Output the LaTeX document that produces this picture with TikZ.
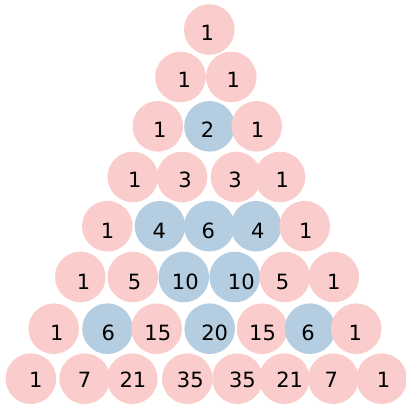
\documentclass[tikz,border=0pt]{standalone}
\usepackage{fontspec}
\setmainfont{DejaVu Sans}
\definecolor{pinkc}{RGB}{250,205,204}
\definecolor{bluec}{RGB}{180,205,225}
\tikzset{
  ball/.style={circle,inner sep=0pt,minimum size=50.6pt,draw=none},
  odd/.style={ball,fill=pinkc},
  even/.style={ball,fill=bluec},
  num/.style={inner sep=0pt,font=\fontsize{21}{21}\selectfont,text=black}
}
\begin{document}
\begin{tikzpicture}[x=1pt,y=-1pt]
\useasboundingbox (0,0) rectangle (406,406);
% row 0
\node[odd] (c00) at (209.3,29.5) {};
\node[num] (t00) at (207.2,32.8) {1};
% row 1
\node[odd] (c10) at (180.5,77) {};
\node[num] (t10) at (184.2,80.3) {1};
\node[odd] (c11) at (231.3,77) {};
\node[num] (t11) at (233.3,80.3) {1};
% row 2
\node[odd] (c20) at (157.8,126.3) {};
\node[num] (t20) at (159.7,130) {1};
\node[even] (c21) at (209.5,126.3) {};
\node[num] (t21) at (207.5,130) {2};
\node[odd] (c22) at (256.7,126.3) {};
\node[num] (t22) at (257.5,130) {1};
% row 3
\node[odd] (c30) at (132.8,177) {};
\node[num] (t30) at (134.7,180) {1};
\node[odd] (c31) at (182,177) {};
\node[num] (t31) at (185,180) {3};
\node[odd] (c32) at (236,177) {};
\node[num] (t32) at (235,180) {3};
\node[odd] (c33) at (280,177) {};
\node[num] (t33) at (282.2,180) {1};
% row 4
\node[odd] (c40) at (107.3,226.2) {};
\node[num] (t40) at (107.5,230.5) {1};
\node[even] (c41) at (160,226.2) {};
\node[num] (t41) at (159.2,230.5) {4};
\node[even] (c42) at (209.3,226.2) {};
\node[num] (t42) at (208.2,230.5) {6};
\node[even] (c43) at (256,226.2) {};
\node[num] (t43) at (257.8,230.5) {4};
\node[odd] (c44) at (304.7,226.2) {};
\node[num] (t44) at (305.8,230.5) {1};
% row 5
\node[odd] (c50) at (80.3,277) {};
\node[num] (t50) at (83.5,281.7) {1};
\node[odd] (c51) at (132.8,277) {};
\node[num] (t51) at (134.5,281.7) {5};
\node[even] (c52) at (183.8,277) {};
\node[num] (t52) at (185.3,281.7) {10};
\node[even] (c53) at (234.7,277) {};
\node[num] (t53) at (241.3,281.7) {10};
\node[odd] (c54) at (284.7,277) {};
\node[num] (t54) at (282.5,281.7) {5};
\node[odd] (c55) at (333.8,277) {};
\node[num] (t55) at (333.8,281.7) {1};
% row 6
\node[odd] (c60) at (53.7,328.7) {};
\node[num] (t60) at (56.8,333.3) {1};
\node[even] (c61) at (107.5,328.7) {};
\node[num] (t61) at (108.3,333.3) {6};
\node[odd] (c62) at (156.7,328.7) {};
\node[num] (t62) at (157.8,333.3) {15};
\node[even] (c63) at (209.7,328.7) {};
\node[num] (t63) at (214.7,333.3) {20};
\node[odd] (c64) at (262,328.7) {};
\node[num] (t64) at (262.5,333.3) {15};
\node[even] (c65) at (310,328.7) {};
\node[num] (t65) at (308,333.3) {6};
\node[odd] (c66) at (356.2,328.7) {};
\node[num] (t66) at (355.2,333.3) {1};
% row 7
\node[odd] (c70) at (30.8,378.7) {};
\node[num] (t70) at (35.8,380) {1};
\node[odd] (c71) at (84.7,378.7) {};
\node[num] (t71) at (84.5,380) {7};
\node[odd] (c72) at (132.3,378.7) {};
\node[num] (t72) at (133,380) {21};
\node[odd] (c73) at (187.3,378.7) {};
\node[num] (t73) at (190.3,380) {35};
\node[odd] (c74) at (237.5,378.7) {};
\node[num] (t74) at (242.5,380) {35};
\node[odd] (c75) at (284.3,378.7) {};
\node[num] (t75) at (289.7,380) {21};
\node[odd] (c76) at (333.3,378.7) {};
\node[num] (t76) at (331.2,380) {7};
\node[odd] (c77) at (381.7,378.7) {};
\node[num] (t77) at (383.5,380) {1};
\end{tikzpicture}
\end{document}
